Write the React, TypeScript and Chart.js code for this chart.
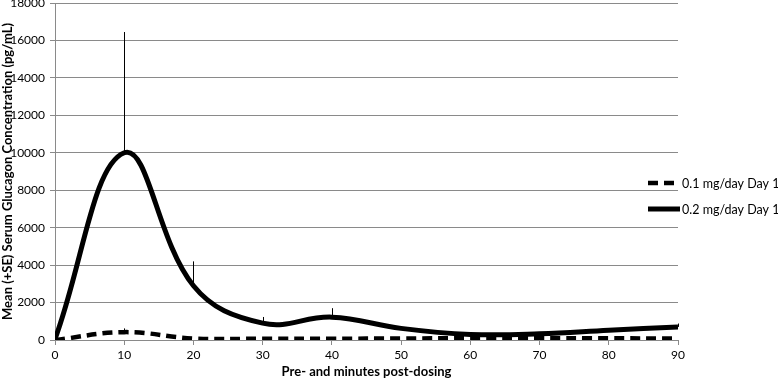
import React, { useEffect, useRef } from "react";
import { Chart, registerables } from "chart.js";

Chart.register(...registerables);

// ---- Data ----
const minutes = [0, 10, 20, 30, 40, 50, 60, 70, 80, 90];
const lowDoseMean = [0, 420, 80, 70, 70, 80, 100, 100, 90, 80];
const lowDoseSE = [0, 200, 0, 0, 0, 0, 0, 0, 0, 0];
const highDoseMean = [50, 10000, 2900, 900, 1220, 620, 300, 330, 520, 700];
const highDoseSE = [0, 6450, 1300, 330, 480, 0, 0, 0, 0, 180];
const seriesLabels = ["0.1 mg/day Day 1", "0.2 mg/day Day 1"];
const xAxisTitle = "Pre- and minutes post-dosing";
const yAxisTitle = "Mean (+SE) Serum Glucagon Concentration (pg/mL)";
const xMin = 0;
const xMax = 90;
const xStep = 10;
const yMin = 0;
const yMax = 18000;
const yStep = 2000;

const FONT = "Lato, 'Liberation Sans', sans-serif";
const GRID = "#8a8a8a";

const seLists = [lowDoseSE, highDoseSE];

const errorBarPlugin = {
  id: "errorBars",
  afterDatasetsDraw(chart: any) {
    const { ctx, scales } = chart;
    ctx.save();
    ctx.strokeStyle = "#000";
    ctx.lineWidth = 1;
    chart.data.datasets.forEach((ds: any, di: number) => {
      const se = seLists[di];
      ds.data.forEach((p: any, i: number) => {
        if (!se[i]) return;
        const x = Math.round(scales.x.getPixelForValue(p.x)) + 0.5;
        const y0 = scales.y.getPixelForValue(p.y);
        const y1 = scales.y.getPixelForValue(p.y + se[i]);
        ctx.beginPath();
        ctx.moveTo(x, y0);
        ctx.lineTo(x, y1);
        ctx.stroke();
      });
    });
    ctx.restore();
  },
};

const legendPlugin = {
  id: "overlayLegend",
  afterDraw(chart: any) {
    const { ctx } = chart;
    ctx.save();
    ctx.font = `12.5px ${FONT}`;
    ctx.textBaseline = "middle";
    ctx.textAlign = "left";
    chart.data.datasets.forEach((ds: any, i: number) => {
      const y = 183 + i * 26;
      ctx.beginPath();
      ctx.strokeStyle = ds.borderColor;
      ctx.lineWidth = ds.borderWidth;
      ctx.lineCap = ds.borderCapStyle || "butt";
      ctx.setLineDash(ds.borderDash || []);
      ctx.moveTo(648, y);
      ctx.lineTo(680, y);
      ctx.stroke();
      ctx.setLineDash([]);
      ctx.fillStyle = "#000";
      ctx.fillText(ds.label, 682, y + 0.5);
    });
    ctx.restore();
  },
};

export default function App() {
  const canvasRef = useRef<HTMLCanvasElement | null>(null);

  useEffect(() => {
    document.body.style.margin = "0";
    const canvas = canvasRef.current;
    if (!canvas) return;
    const chart = new Chart(canvas, {
      type: "line",
      data: {
        datasets: [
          {
            label: seriesLabels[0],
            data: minutes.map((m, i) => ({ x: m, y: lowDoseMean[i] })),
            borderColor: "#000",
            backgroundColor: "#000",
            borderWidth: 4.5,
            borderDash: [10, 6],
            pointRadius: 0,
            tension: 0.4,
            fill: false,
          },
          {
            label: seriesLabels[1],
            data: minutes.map((m, i) => ({ x: m, y: highDoseMean[i] })),
            borderColor: "#000",
            backgroundColor: "#000",
            borderWidth: 5,
            pointRadius: 0,
            tension: 0.4,
            fill: false,
          },
        ],
      },
      options: {
        animation: false,
        responsive: false,
        maintainAspectRatio: false,
        layout: { padding: { top: 3, right: 100, left: 0, bottom: 0 } },
        plugins: {
          legend: { display: false },
          tooltip: { enabled: false },
        },
        scales: {
          x: {
            type: "linear",
            min: xMin,
            max: xMax,
            ticks: {
              stepSize: xStep,
              color: "#000",
              font: { family: FONT, size: 12 },
              padding: 3,
              callback: (v: any) => String(v),
            },
            grid: {
              drawOnChartArea: false,
              drawTicks: true,
              tickLength: 5,
              color: GRID,
            },
            border: { display: true, color: GRID, width: 1 },
            title: {
              display: true,
              text: xAxisTitle,
              color: "#000",
              font: { family: FONT, size: 13, weight: "bold" },
              padding: { top: 3, bottom: 0 },
            },
            afterFit(scale: any) {
              scale.height = 40;
              scale.paddingLeft = 0;
              scale.paddingRight = 0;
            },
          },
          y: {
            type: "linear",
            min: yMin,
            max: yMax,
            ticks: {
              stepSize: yStep,
              color: "#000",
              font: { family: FONT, size: 12 },
              padding: 5,
              callback: (v: any) => String(v),
            },
            grid: {
              drawTicks: true,
              tickLength: 5,
              color: GRID,
            },
            border: { display: true, color: GRID, width: 1 },
            title: {
              display: true,
              text: yAxisTitle,
              color: "#000",
              font: { family: FONT, size: 13, weight: "bold" },
              padding: { top: 0, bottom: 3 },
            },
            afterFit(scale: any) {
              scale.width = 55;
              scale.paddingTop = 0;
              scale.paddingBottom = 0;
            },
          },
        },
      },
      plugins: [errorBarPlugin, legendPlugin],
    } as any);
    return () => chart.destroy();
  }, []);

  return (
    <div style={{ width: 778, height: 380, position: "relative", background: "#fff" }}>
      <canvas ref={canvasRef} width={778} height={380} style={{ display: "block" }} />
    </div>
  );
}
